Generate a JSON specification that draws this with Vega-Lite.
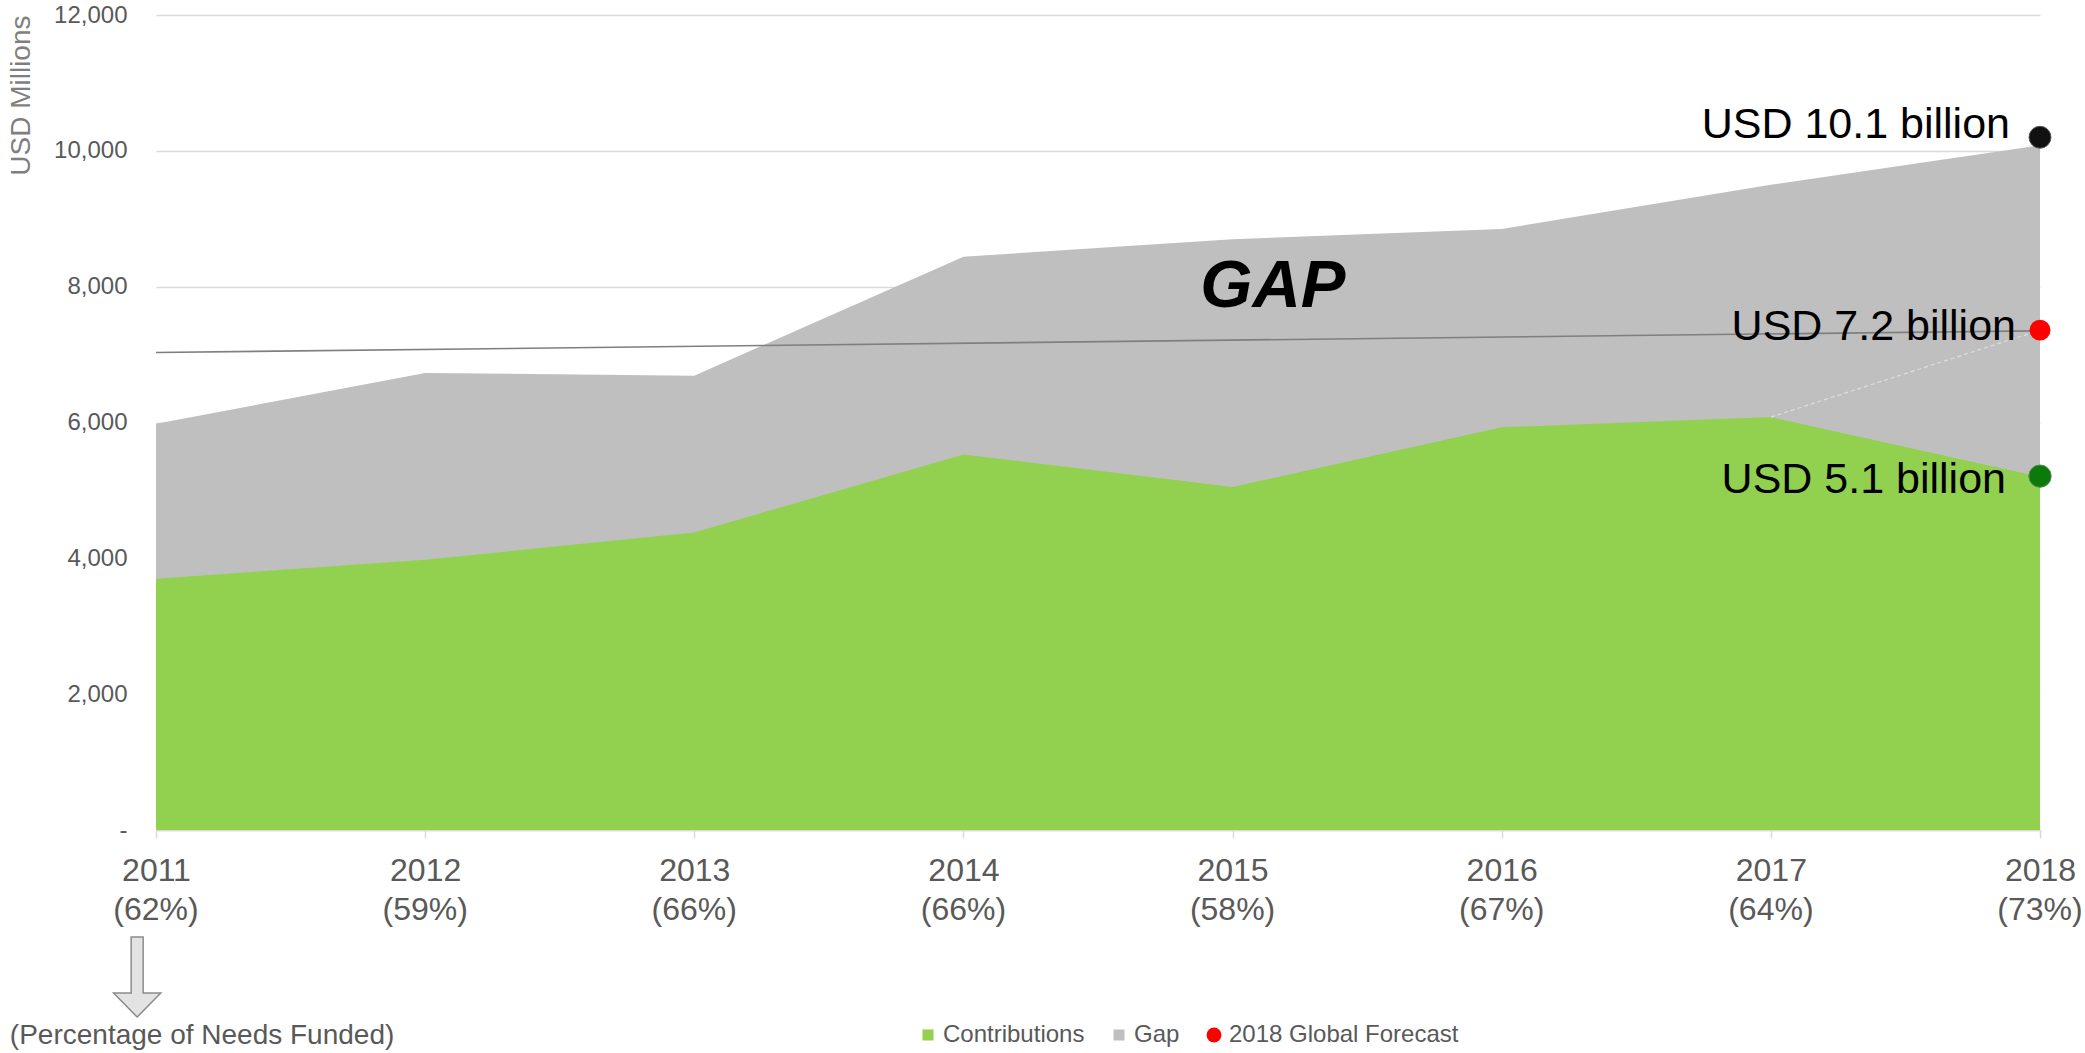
{
  "$schema": "https://vega.github.io/schema/vega-lite/v6.json",
  "width": 1884,
  "height": 815,
  "autosize": {"type": "none"},
  "padding": {"left": 156, "top": 15, "right": 45, "bottom": 223},
  "background": "white",
  "config": {
    "font": "Liberation Sans",
    "view": {"stroke": null},
    "axis": {"labelFont": "Liberation Sans", "titleFont": "Liberation Sans"},
    "legend": {"labelFont": "Liberation Sans"}
  },
  "datasets": {
    "funding": [
      {"year": 2011, "contributions": 3700, "total": 5980, "pct": "(62%)"},
      {"year": 2012, "contributions": 3980, "total": 6730, "pct": "(59%)"},
      {"year": 2013, "contributions": 4380, "total": 6690, "pct": "(66%)"},
      {"year": 2014, "contributions": 5530, "total": 8440, "pct": "(66%)"},
      {"year": 2015, "contributions": 5050, "total": 8700, "pct": "(58%)"},
      {"year": 2016, "contributions": 5930, "total": 8850, "pct": "(67%)"},
      {"year": 2017, "contributions": 6080, "total": 9500, "pct": "(64%)"},
      {"year": 2018, "contributions": 5200, "total": 10080, "pct": "(73%)"}
    ],
    "endpoints": [
      {"series": "Requirements", "label": "USD 10.1 billion", "year": 2018, "value": 10200},
      {"series": "2018 Global Forecast", "label": "USD 7.2 billion", "year": 2018, "value": 7360},
      {"series": "Contributions", "label": "USD 5.1 billion", "year": 2018, "value": 5210}
    ],
    "trend": [
      {"year": 2011, "value": 7030},
      {"year": 2018, "value": 7350}
    ],
    "forecastLink": [
      {"year": 2017, "value": 6080},
      {"year": 2018, "value": 7360}
    ],
    "single": [{"note": "annotation"}]
  },
  "data": {"name": "funding"},
  "layer": [
    {
      "mark": {"type": "area", "interpolate": "linear"},
      "encoding": {
        "x": {
          "field": "year", "type": "quantitative",
          "scale": {"domain": [2011, 2018], "nice": false, "zero": false},
          "axis": {
            "values": [2011, 2012, 2013, 2014, 2015, 2016, 2017, 2018],
            "format": "d",
            "title": null,
            "grid": false,
            "domainColor": "#d9d9d9",
            "domainWidth": 1.5,
            "tickColor": "#d9d9d9",
            "tickWidth": 1.5,
            "tickSize": 8,
            "labelFontSize": 32,
            "labelColor": "#595959",
            "labelPadding": 17,
            "labelFlush": false
          }
        },
        "y": {
          "field": "total", "type": "quantitative", "stack": null,
          "scale": {"domain": [0, 12000], "nice": false},
          "axis": {
            "values": [0, 2000, 4000, 6000, 8000, 10000, 12000],
            "labelExpr": "datum.value == 0 ? '-' : format(datum.value, ',')",
            "title": "USD Millions",
            "titleFontSize": 28,
            "titleFontWeight": "normal",
            "titleColor": "#7f7f7f",
            "titleAnchor": "end",
            "titlePadding": 18,
            "labelFontSize": 24,
            "labelColor": "#595959",
            "labelPadding": 29,
            "ticks": false,
            "domain": false,
            "grid": true,
            "gridColor": "#d9d9d9",
            "gridWidth": 1.5
          }
        },
        "color": {
          "datum": "Gap",
          "scale": {
            "domain": ["Contributions", "Gap", "2018 Global Forecast"],
            "range": ["#92d050", "#bfbfbf", "#ff0000"]
          },
          "legend": {
            "title": null,
            "orient": "none",
            "legendX": 760,
            "legendY": 1008,
            "direction": "horizontal",
            "padding": 0,
            "labelFontSize": 24,
            "labelColor": "#595959",
            "labelOffset": 3,
            "labelLimit": 0,
            "columnPadding": 22,
            "symbolStrokeWidth": 0,
            "symbolOpacity": 1,
            "encode": {
              "symbols": {
                "update": {
                  "shape": {"signal": "datum.value === '2018 Global Forecast' ? 'circle' : 'square'"},
                  "size": {"signal": "datum.value === '2018 Global Forecast' ? 220 : 121"},
                  "strokeWidth": {"value": 0}
                }
              }
            }
          }
        }
      }
    },
    {
      "mark": {"type": "area", "interpolate": "linear"},
      "encoding": {
        "x": {"field": "year", "type": "quantitative"},
        "y": {"field": "contributions", "type": "quantitative", "stack": null},
        "color": {"datum": "Contributions"}
      }
    },
    {
      "data": {"name": "trend"},
      "mark": {"type": "line", "color": "#7f7f7f", "strokeWidth": 1.6},
      "encoding": {
        "x": {"field": "year", "type": "quantitative"},
        "y": {"field": "value", "type": "quantitative"}
      }
    },
    {
      "data": {"name": "forecastLink"},
      "mark": {"type": "line", "color": "#dedede", "strokeWidth": 1.2, "strokeDash": [4, 3]},
      "encoding": {
        "x": {"field": "year", "type": "quantitative"},
        "y": {"field": "value", "type": "quantitative"}
      }
    },
    {
      "data": {"name": "endpoints"},
      "transform": [{"filter": "datum.series === 'Requirements'"}],
      "mark": {"type": "point", "filled": true, "shape": "circle", "size": 480, "opacity": 1, "color": "#111111", "stroke": "#555555", "strokeWidth": 1},
      "encoding": {
        "x": {"field": "year", "type": "quantitative"},
        "y": {"field": "value", "type": "quantitative"}
      }
    },
    {
      "data": {"name": "endpoints"},
      "transform": [{"filter": "datum.series === 'Contributions'"}],
      "mark": {"type": "point", "filled": true, "shape": "circle", "size": 500, "opacity": 1, "color": "#0b7a0b", "stroke": "#5a8a5a", "strokeWidth": 1},
      "encoding": {
        "x": {"field": "year", "type": "quantitative"},
        "y": {"field": "value", "type": "quantitative"}
      }
    },
    {
      "data": {"name": "endpoints"},
      "transform": [{"filter": "datum.series === '2018 Global Forecast'"}],
      "mark": {"type": "point", "filled": true, "shape": "circle", "size": 440, "opacity": 1},
      "encoding": {
        "x": {"field": "year", "type": "quantitative"},
        "y": {"field": "value", "type": "quantitative"},
        "color": {"datum": "2018 Global Forecast"}
      }
    },
    {
      "data": {"name": "endpoints"},
      "transform": [{"filter": "datum.series === 'Requirements'"}],
      "mark": {"type": "text", "align": "right", "baseline": "middle", "dx": -30, "dy": -12, "fontSize": 43, "color": "#000000", "font": "Liberation Sans"},
      "encoding": {
        "x": {"field": "year", "type": "quantitative"},
        "y": {"field": "value", "type": "quantitative"},
        "text": {"field": "label"}
      }
    },
    {
      "data": {"name": "endpoints"},
      "transform": [{"filter": "datum.series === '2018 Global Forecast'"}],
      "mark": {"type": "text", "align": "right", "baseline": "middle", "dx": -24, "dy": -3, "fontSize": 43, "color": "#000000", "font": "Liberation Sans"},
      "encoding": {
        "x": {"field": "year", "type": "quantitative"},
        "y": {"field": "value", "type": "quantitative"},
        "text": {"field": "label"}
      }
    },
    {
      "data": {"name": "endpoints"},
      "transform": [{"filter": "datum.series === 'Contributions'"}],
      "mark": {"type": "text", "align": "right", "baseline": "middle", "dx": -34, "dy": 4, "fontSize": 43, "color": "#000000", "font": "Liberation Sans"},
      "encoding": {
        "x": {"field": "year", "type": "quantitative"},
        "y": {"field": "value", "type": "quantitative"},
        "text": {"field": "label"}
      }
    },
    {
      "data": {"name": "single"},
      "mark": {"type": "text", "text": "GAP", "fontSize": 67, "fontWeight": "bold", "fontStyle": "italic", "color": "#000000", "align": "center", "baseline": "middle", "font": "Liberation Sans"},
      "encoding": {
        "x": {"datum": 2015.15},
        "y": {"datum": 7990}
      }
    },
    {
      "mark": {"type": "text", "fontSize": 32, "color": "#595959", "align": "center", "baseline": "middle", "font": "Liberation Sans"},
      "encoding": {
        "x": {"field": "year", "type": "quantitative"},
        "y": {"datum": -1178},
        "text": {"field": "pct"}
      }
    },
    {
      "data": {"name": "single"},
      "mark": {"type": "point", "shape": "M -0.15 -1 L 0.15 -1 L 0.15 0.4 L 0.59 0.4 L 0 1 L -0.59 0.4 L -0.15 0.4 Z", "size": 6400, "filled": true, "fill": "#e3e3e3", "stroke": "#8c8c8c", "strokeWidth": 1.5, "opacity": 1},
      "encoding": {
        "x": {"datum": 2010.93},
        "y": {"datum": -2165}
      }
    },
    {
      "data": {"name": "single"},
      "mark": {"type": "text", "text": "(Percentage of Needs Funded)", "fontSize": 28, "color": "#595959", "align": "left", "baseline": "top", "font": "Liberation Sans"},
      "encoding": {
        "x": {"datum": 2010.457},
        "y": {"datum": -2830}
      }
    }
  ]
}
